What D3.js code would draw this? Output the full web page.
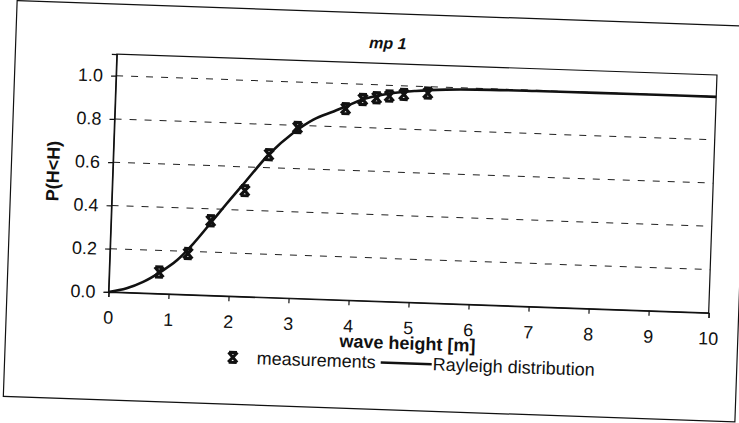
<!DOCTYPE html>
<html>
<head>
<meta charset="utf-8">
<script src="https://cdn.jsdelivr.net/npm/d3@7"></script>
<style>
  html, body { margin: 0; padding: 0; background: #fff; }
  svg { display: block; }
  text { font-family: Arial, "Liberation Sans", Helvetica, sans-serif; fill: #111; }
</style>
</head>
<body>
<svg id="chart" width="739" height="423"></svg>
<script>
// Measured wave heights [m] and their cumulative probabilities
const measX = [0.83, 1.30, 1.66, 2.21, 2.59, 3.05, 3.84, 4.12, 4.35, 4.56, 4.80, 5.20];
const measP = [0.10, 0.19, 0.345, 0.49, 0.66, 0.79, 0.885, 0.93, 0.94, 0.95, 0.96, 0.97];

// Rayleigh distribution curve points
const rayX = [0, 0.3, 0.57, 0.85, 1.12, 1.38, 1.66, 1.91, 2.21, 2.59, 2.98, 3.31, 3.64, 3.84, 4.07, 4.5, 5.0, 5.5, 6, 7, 8, 9, 10];
const rayP = [0, 0.02, 0.052, 0.10, 0.157, 0.236, 0.335, 0.425, 0.53, 0.662, 0.764, 0.829, 0.87, 0.895, 0.925, 0.958, 0.978, 0.989, 0.994, 0.997, 0.998, 0.999, 0.999];

// Axis ticks
const xTicks = [0, 1, 2, 3, 4, 5, 6, 7, 8, 9, 10];
const yTicks = [0, 0.2, 0.4, 0.6, 0.8, 1.0];

const title = "mp 1";
const xTitle = "wave height [m]";
const yTitle = "P(H<H)";
const legendLabels = ["measurements", "Rayleigh distribution"];

const W = 739, H = 423;
const FS = 18;
const svg = d3.select("#chart");
svg.append("rect").attr("width", W).attr("height", H).attr("fill", "#fff");

// the printed page sits slightly tilted
const g = svg.append("g").attr("transform", "rotate(2, 369.5, 211.5)");

// outer chart frame
g.append("rect")
  .attr("x", 10).attr("y", 13).attr("width", 732).attr("height", 396)
  .attr("fill", "none").attr("stroke", "#111").attr("stroke-width", 1.2);

const plot = { left: 111.5, right: 712, top: 63, bottom: 301 };
const x = d3.scaleLinear().domain([0, 10]).range([plot.left, plot.right]);
const y = d3.scaleLinear().domain([0, 1.1]).range([plot.bottom, plot.top]);

// dashed horizontal gridlines
g.append("g")
  .selectAll("line")
  .data(yTicks.filter(d => d > 0))
  .join("line")
  .attr("x1", plot.left).attr("x2", plot.right)
  .attr("y1", d => y(d)).attr("y2", d => y(d))
  .attr("stroke", "#222").attr("stroke-width", 1)
  .attr("stroke-dasharray", "7,8");

// plot area border
g.append("rect")
  .attr("x", plot.left).attr("y", plot.top)
  .attr("width", plot.right - plot.left).attr("height", plot.bottom - plot.top)
  .attr("fill", "none").attr("stroke", "#111").attr("stroke-width", 1.2);

// axes
const xAxis = g.append("g")
  .attr("transform", `translate(0,${plot.bottom})`)
  .call(d3.axisBottom(x).tickValues(xTicks).tickFormat(d3.format("d")).tickSize(5).tickPadding(14));
const yAxis = g.append("g")
  .attr("transform", `translate(${plot.left},0)`)
  .call(d3.axisLeft(y).tickValues(yTicks).tickFormat(d3.format(".1f")).tickSize(5).tickPadding(8));

[xAxis, yAxis].forEach(a => {
  a.select(".domain").attr("stroke", "#111").attr("stroke-width", 1.2);
  a.selectAll(".tick line").attr("stroke", "#111").attr("stroke-width", 1.2);
  a.selectAll(".tick text")
    .attr("font-size", FS).attr("fill", "#111")
    .style("font-family", "Arial, 'Liberation Sans', sans-serif");
});

// Rayleigh curve
const line = d3.line()
  .x(d => x(d[0])).y(d => y(d[1]))
  .curve(d3.curveMonotoneX);
g.append("path")
  .datum(rayX.map((v, i) => [v, rayP[i]]))
  .attr("d", line)
  .attr("fill", "none").attr("stroke", "#111").attr("stroke-width", 2.6)
  .attr("stroke-linejoin", "round");

// measurement marker: bold x with flat caps
const markerPath = "M-4.5,-5L4.5,5M4.5,-5L-4.5,5M-4,-5L4,-5M-4,5L4,5";
g.append("g")
  .selectAll("path")
  .data(measX.map((v, i) => [v, measP[i]]))
  .join("path")
  .attr("transform", d => `translate(${x(d[0])},${y(d[1])})`)
  .attr("d", markerPath)
  .attr("fill", "none").attr("stroke", "#111").attr("stroke-width", 3.2);

// titles
g.append("text")
  .attr("x", 382).attr("y", 48)
  .attr("text-anchor", "middle")
  .attr("font-size", 16).attr("font-weight", "bold").attr("font-style", "italic")
  .text(title);

g.append("text")
  .attr("x", 412).attr("y", 348)
  .attr("text-anchor", "middle")
  .attr("font-size", FS).attr("font-weight", "bold")
  .text(xTitle);

g.append("text")
  .attr("transform", "translate(58,182) rotate(-90)")
  .attr("text-anchor", "middle")
  .attr("font-size", FS).attr("font-weight", "bold")
  .text(yTitle);

// legend
const legY = 368;
g.append("path")
  .attr("transform", `translate(238,${legY - 6})`)
  .attr("d", markerPath)
  .attr("fill", "none").attr("stroke", "#111").attr("stroke-width", 3);
g.append("text")
  .attr("x", 262).attr("y", legY)
  .attr("font-size", FS)
  .text(legendLabels[0]);
g.append("line")
  .attr("x1", 386).attr("x2", 437)
  .attr("y1", legY - 6).attr("y2", legY - 6)
  .attr("stroke", "#111").attr("stroke-width", 2.4);
g.append("text")
  .attr("x", 438).attr("y", legY)
  .attr("font-size", FS)
  .text(legendLabels[1]);
</script>
</body>
</html>
